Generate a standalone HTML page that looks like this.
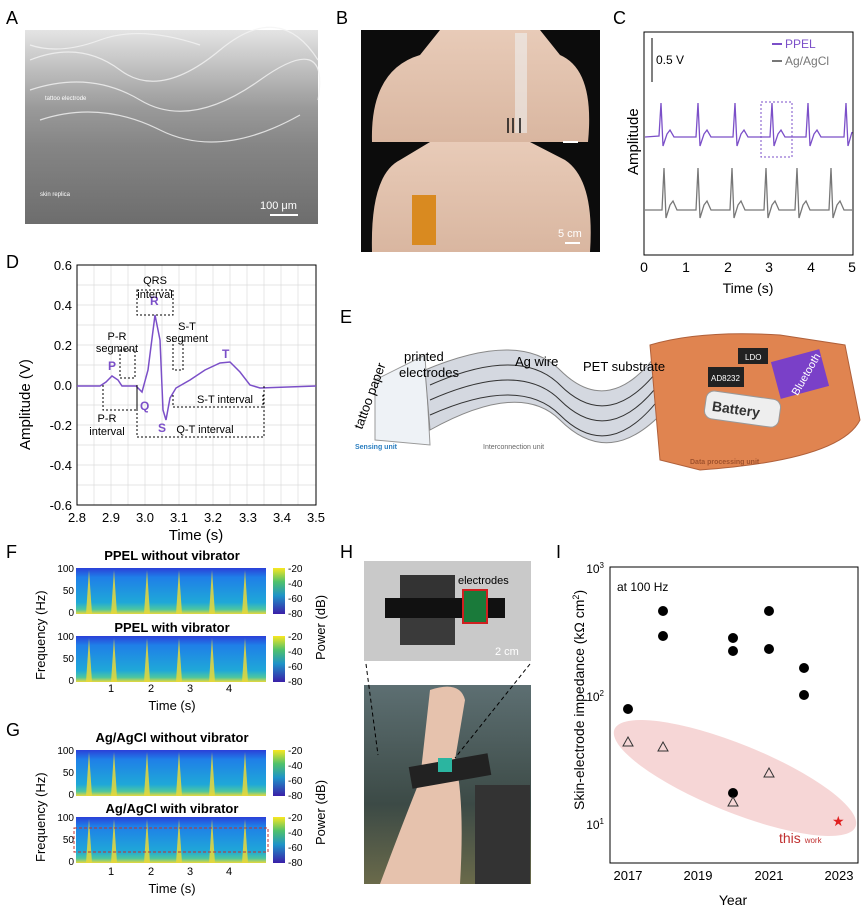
<!DOCTYPE html><html><head><meta charset="utf-8"><style>
body{margin:0;background:#fff}
svg{display:block;font-family:"Liberation Sans",sans-serif}
</style></head><body>
<svg width="865" height="916" viewBox="0 0 865 916" xmlns="http://www.w3.org/2000/svg">
<defs>
<linearGradient id="cb" x1="0" y1="0" x2="0" y2="1"><stop offset="0" stop-color="#f9e721"/><stop offset=".3" stop-color="#4fc16b"/><stop offset=".6" stop-color="#1f93c8"/><stop offset="1" stop-color="#3a1fa8"/></linearGradient>
<linearGradient id="sp" x1="0" y1="0" x2="0" y2="1"><stop offset="0" stop-color="#2b40d8"/><stop offset=".2" stop-color="#1f7fe8"/><stop offset=".75" stop-color="#1fa8d8"/><stop offset=".9" stop-color="#4dc6a0"/><stop offset="1" stop-color="#e8d83a"/></linearGradient>
<linearGradient id="sem" x1="0" y1="0" x2="0" y2="1"><stop offset="0" stop-color="#e4e4e4"/><stop offset=".4" stop-color="#9a9a9a"/><stop offset=".6" stop-color="#858585"/><stop offset="1" stop-color="#6d6d6d"/></linearGradient>
<linearGradient id="skin" x1="0" y1="0" x2="0" y2="1"><stop offset="0" stop-color="#e8cbb8"/><stop offset="1" stop-color="#d9b6a0"/></linearGradient>
<linearGradient id="h2" x1="0" y1="0" x2="0" y2="1"><stop offset="0" stop-color="#5d6f72"/><stop offset=".6" stop-color="#3c4a46"/><stop offset="1" stop-color="#6a6a4a"/></linearGradient>
</defs>
<g font-size="18"><text x="6" y="24">A</text><text x="336" y="24">B</text><text x="613" y="24">C</text><text x="6" y="268">D</text><text x="340" y="323">E</text><text x="6" y="558">F</text><text x="6" y="736">G</text><text x="340" y="558">H</text><text x="556" y="558">I</text></g>
<!-- A -->
<rect x="25" y="30" width="293" height="194" fill="url(#sem)"/>
<g stroke="#f4f4f4" stroke-width="1.2" fill="none" opacity=".8"><path d="M30 60 Q80 40 120 70 T220 50 T318 60"/><path d="M30 90 Q90 70 140 100 T260 80 T318 100"/><path d="M40 120 Q100 100 160 130 T300 115"/><path d="M30 45 Q60 55 100 40 T200 45"/></g>
<text x="45" y="100" font-size="6" fill="#fff">tattoo electrode</text><text x="40" y="196" font-size="6" fill="#fff">skin replica</text>
<text x="260" y="209" font-size="11" fill="#fff">100 μm</text><rect x="270" y="214" width="28" height="2" fill="#fff"/>
<!-- B -->
<rect x="361" y="30" width="239" height="222" fill="#0c0c0c"/>
<path d="M372 142 Q370 70 420 55 L440 30 L540 30 L560 55 Q595 70 588 142Z" fill="url(#skin)"/>
<path d="M372 252 Q370 175 400 160 L430 142 L530 142 L565 160 Q595 180 590 252Z" fill="url(#skin)"/>
<rect x="515" y="33" width="12" height="100" fill="#eee" opacity=".6"/>
<path d="M508 118v15M513 118v15M520 118v15" stroke="#111" stroke-width="1.5"/>
<rect x="563" y="141" width="15" height="2" fill="#fff"/>
<rect x="412" y="195" width="24" height="50" fill="#d98a20"/>
<text x="558" y="237" font-size="11" fill="#fff">5 cm</text><rect x="565" y="242" width="15" height="2" fill="#fff"/>
<!-- C -->
<rect x="644" y="32" width="209" height="223" fill="none" stroke="#000"/>
<path d="M652 38v44" stroke="#000"/><text x="656" y="64" font-size="12">0.5 V</text>
<path d="M772 44h10" stroke="#7b4fc8" stroke-width="2"/><text x="785" y="48" font-size="12" fill="#7b4fc8">PPEL</text>
<path d="M772 61h10" stroke="#777" stroke-width="2"/><text x="785" y="65" font-size="12" fill="#777">Ag/AgCl</text>
<path d="M645 137 L659 136 L661 103 L663 146 L667 134 L670 130 L674 137 L696 137 L698 103 L700 146 L704 134 L707 130 L711 137 L733 137 L735 103 L737 146 L741 134 L744 130 L748 137 L770 137 L772 103 L774 146 L778 134 L781 130 L785 137 L806 137 L808 103 L810 146 L814 134 L817 130 L821 137 L844 137 L846 103 L848 146 L852 132" fill="none" stroke="#7b4fc8" stroke-width="1.3"/>
<rect x="761" y="102" width="31" height="55" fill="none" stroke="#7b4fc8" stroke-dasharray="2,2"/>
<path d="M645 210 L662 210 L664 168 L666 218 L670 205 L673 201 L677 210 L696 210 L698 168 L700 218 L704 205 L707 201 L711 210 L730 210 L732 168 L734 218 L738 205 L741 201 L745 210 L764 210 L766 168 L768 218 L772 205 L775 201 L779 210 L795 210 L797 168 L799 218 L803 205 L806 201 L810 210 L829 210 L831 168 L833 218 L837 205 L840 201 L844 210 L852 210" fill="none" stroke="#777" stroke-width="1.3"/>
<g font-size="14" text-anchor="middle"><text x="644" y="272">0</text><text x="686" y="272">1</text><text x="728" y="272">2</text><text x="769" y="272">3</text><text x="811" y="272">4</text><text x="852" y="272">5</text><text x="748" y="293">Time (s)</text></g>
<text transform="translate(638,175) rotate(-90)" font-size="15">Amplitude</text>
<!-- D -->
<g stroke="#ddd" stroke-width=".7"><path d="M94 265v240M111 265v240M128 265v240M145 265v240M162 265v240M179 265v240M196 265v240M213 265v240M230 265v240M247 265v240M264 265v240M281 265v240M298 265v240"/><path d="M77 285h239M77 305h239M77 325h239M77 345h239M77 365h239M77 385h239M77 405h239M77 425h239M77 445h239M77 465h239M77 485h239"/></g>
<rect x="77" y="265" width="239" height="240" fill="none" stroke="#000"/>
<g font-size="13" text-anchor="end"><text x="72" y="270">0.6</text><text x="72" y="310">0.4</text><text x="72" y="350">0.2</text><text x="72" y="390">0.0</text><text x="72" y="430">-0.2</text><text x="72" y="470">-0.4</text><text x="72" y="510">-0.6</text></g>
<g font-size="13" text-anchor="middle"><text x="77" y="522">2.8</text><text x="111" y="522">2.9</text><text x="145" y="522">3.0</text><text x="179" y="522">3.1</text><text x="213" y="522">3.2</text><text x="248" y="522">3.3</text><text x="282" y="522">3.4</text><text x="316" y="522">3.5</text><text x="196" y="540" font-size="15">Time (s)</text></g>
<text transform="translate(30,450) rotate(-90)" font-size="15">Amplitude (V)</text>
<path d="M77 386 L100 386 L106 382 L112 376 L118 380 L122 386 L136 386 L142 392 L148 370 L155 315 L160 340 L163 410 L166 420 L170 398 L176 388 L190 380 L205 370 L220 363 L230 362 L240 372 L250 385 L260 388 L316 386" fill="none" stroke="#7b4fc8" stroke-width="1.5"/>
<g fill="#7b4fc8" font-size="12" font-weight="bold"><text x="108" y="370">P</text><text x="140" y="410">Q</text><text x="150" y="305">R</text><text x="158" y="432">S</text><text x="222" y="358">T</text></g>
<g fill="none" stroke="#000" stroke-dasharray="2,2"><rect x="137" y="290" width="36" height="25"/><rect x="120" y="350" width="15" height="28"/><path d="M103 385v25h34v-25"/><path d="M137 385v52h127v-52"/><path d="M173 340v30h10v-30"/><path d="M173 395v12h90v-12"/></g>
<g font-size="11" text-anchor="middle"><text x="155" y="284">QRS</text><text x="155" y="298">interval</text><text x="117" y="340">P-R</text><text x="117" y="352">segment</text><text x="187" y="330">S-T</text><text x="187" y="342">segment</text><text x="225" y="403">S-T interval</text><text x="107" y="422">P-R</text><text x="107" y="435">interval</text><text x="205" y="433">Q-T interval</text></g>
<!-- E -->
<path d="M375 380 L425 355 L430 445 L375 440Z" fill="#eef2f6" stroke="#999"/>
<path d="M425 370 Q520 330 560 370 Q610 420 660 350 L665 410 Q610 470 560 420 Q520 380 430 430Z" fill="#d4d8e0" stroke="#888"/>
<path d="M430 385 Q520 345 560 385 Q610 435 662 365M430 400 Q520 360 560 400 Q610 450 662 380M430 415 Q520 375 560 415 Q610 465 662 395" fill="none" stroke="#333" stroke-width="1"/>
<path d="M650 345 Q700 330 780 335 L845 345 L860 420 Q840 460 700 470 L660 460 Z" fill="#e08450" stroke="#b0603a"/>
<rect x="708" y="367" width="36" height="20" fill="#222"/><text x="711" y="381" font-size="8" fill="#fff">AD8232</text>
<rect x="738" y="348" width="30" height="16" fill="#222"/><text x="745" y="360" font-size="8" fill="#fff">LDO</text>
<rect x="775" y="355" width="50" height="38" fill="#7a40c8" transform="rotate(-15 800 374)"/><text x="783" y="385" font-size="11" fill="#fff" transform="rotate(-60 800 378)">Bluetooth</text>
<rect x="705" y="395" width="75" height="28" rx="8" fill="#eee" stroke="#999" transform="rotate(8 742 409)"/><text x="712" y="415" font-size="14" font-weight="bold" fill="#333" transform="rotate(8 742 409)">Battery</text>
<g font-size="13"><text x="404" y="361">printed</text><text x="399" y="377">electrodes</text><text x="515" y="366">Ag wire</text><text x="583" y="371">PET substrate</text><text transform="translate(362,430) rotate(-70)">tattoo paper</text></g>
<text x="355" y="449" font-size="7" fill="#2a7ec0" font-weight="bold">Sensing unit</text><text x="483" y="449" font-size="7" fill="#666">Interconnection unit</text><text x="690" y="464" font-size="7" fill="#a0522d" font-weight="bold">Data processing unit</text>
<!-- F/G -->
<g font-size="13" font-weight="bold" text-anchor="middle"><text x="172" y="560">PPEL without vibrator</text><text x="172" y="632">PPEL with vibrator</text><text x="172" y="742">Ag/AgCl without vibrator</text><text x="172" y="813">Ag/AgCl with vibrator</text></g>
<g id="spec"><rect x="76" y="568" width="190" height="46" fill="url(#sp)"/>
<g fill="#e8d83a" opacity=".85"><path d="M86 614l3-44 3 44z"/><path d="M111 614l3-44 3 44z"/><path d="M144 614l3-44 3 44z"/><path d="M176 614l3-44 3 44z"/><path d="M209 614l3-44 3 44z"/><path d="M242 614l3-44 3 44z"/></g>
<rect x="273" y="568" width="12" height="46" fill="url(#cb)"/></g>
<use href="#spec" y="68"/><use href="#spec" y="182"/><use href="#spec" y="249"/>
<rect x="74" y="828" width="194" height="24" fill="none" stroke="#c03030" stroke-dasharray="3,2"/>
<g font-size="10" text-anchor="end"><text x="74" y="572">100</text><text x="74" y="594">50</text><text x="74" y="616">0</text><text x="74" y="640">100</text><text x="74" y="662">50</text><text x="74" y="684">0</text><text x="74" y="754">100</text><text x="74" y="776">50</text><text x="74" y="798">0</text><text x="74" y="821">100</text><text x="74" y="843">50</text><text x="74" y="865">0</text></g>
<g font-size="10"><text x="288" y="572">-20</text><text x="288" y="587">-40</text><text x="288" y="602">-60</text><text x="288" y="617">-80</text><text x="288" y="640">-20</text><text x="288" y="655">-40</text><text x="288" y="670">-60</text><text x="288" y="685">-80</text><text x="288" y="754">-20</text><text x="288" y="769">-40</text><text x="288" y="784">-60</text><text x="288" y="799">-80</text><text x="288" y="821">-20</text><text x="288" y="836">-40</text><text x="288" y="851">-60</text><text x="288" y="866">-80</text></g>
<g font-size="11" text-anchor="middle"><text x="111" y="692">1</text><text x="151" y="692">2</text><text x="190" y="692">3</text><text x="229" y="692">4</text><text x="111" y="875">1</text><text x="151" y="875">2</text><text x="190" y="875">3</text><text x="229" y="875">4</text><text x="172" y="710" font-size="13">Time (s)</text><text x="172" y="893" font-size="13">Time (s)</text></g>
<g font-size="13"><text transform="translate(45,680) rotate(-90)">Frequency (Hz)</text><text transform="translate(325,660) rotate(-90)">Power (dB)</text><text transform="translate(45,862) rotate(-90)">Frequency (Hz)</text><text transform="translate(325,845) rotate(-90)">Power (dB)</text></g>
<!-- H -->
<rect x="364" y="561" width="167" height="100" fill="#c9c9c9"/>
<rect x="400" y="575" width="55" height="40" fill="#333"/><rect x="400" y="610" width="55" height="35" fill="#3a3a3a"/>
<rect x="385" y="598" width="120" height="20" fill="#111"/>
<rect x="463" y="590" width="24" height="33" fill="#1a7a3a" stroke="#d02020" stroke-width="2"/>
<text x="458" y="584" font-size="11">electrodes</text><text x="495" y="655" font-size="11" fill="#fff">2 cm</text>
<rect x="364" y="685" width="167" height="199" fill="url(#h2)"/>
<path d="M430 690 Q460 680 465 700 L455 760 Q465 800 460 884 L380 884 Q400 830 420 780Z" fill="#e6c2ad"/>
<rect x="410" y="760" width="80" height="22" fill="#222" transform="rotate(-10 450 771)"/>
<rect x="438" y="758" width="14" height="14" fill="#2bb5a0"/>
<rect x="475" y="785" width="55" height="99" fill="#333"/>
<g stroke="#000" stroke-dasharray="4,3" fill="none"><path d="M366 664 L378 755"/><path d="M530 664 L455 758"/></g>
<!-- I -->
<rect x="610" y="567" width="248" height="296" fill="none" stroke="#000"/>
<ellipse cx="735" cy="778" rx="130" ry="34" transform="rotate(22 735 778)" fill="#f4cccc" opacity=".8"/>
<g font-size="12" text-anchor="end"><text x="604" y="573">10<tspan font-size="8" dy="-5">3</tspan></text><text x="604" y="701">10<tspan font-size="8" dy="-5">2</tspan></text><text x="604" y="829">10<tspan font-size="8" dy="-5">1</tspan></text></g>
<g font-size="13" text-anchor="middle"><text x="628" y="880">2017</text><text x="698" y="880">2019</text><text x="769" y="880">2021</text><text x="839" y="880">2023</text><text x="733" y="905" font-size="14">Year</text></g>
<text transform="translate(584,810) rotate(-90)" font-size="14">Skin-electrode impedance (kΩ cm<tspan font-size="9" dy="-5">2</tspan><tspan dy="5">)</tspan></text>
<text x="617" y="591" font-size="12">at 100 Hz</text>
<g fill="#000"><circle cx="628" cy="709" r="5"/><circle cx="663" cy="611" r="5"/><circle cx="663" cy="636" r="5"/><circle cx="733" cy="638" r="5"/><circle cx="733" cy="651" r="5"/><circle cx="733" cy="793" r="5"/><circle cx="769" cy="611" r="5"/><circle cx="769" cy="649" r="5"/><circle cx="804" cy="668" r="5"/><circle cx="804" cy="695" r="5"/></g>
<g fill="none" stroke="#333"><path d="M628 737l5 9h-10z"/><path d="M663 742l5 9h-10z"/><path d="M733 797l5 9h-10z"/><path d="M769 768l5 9h-10z"/></g>
<text x="832" y="826" font-size="14" fill="#e02020">★</text>
<text x="779" y="843" font-size="14" fill="#c03030">this <tspan font-size="8">work</tspan></text>
</svg>
</body></html>
